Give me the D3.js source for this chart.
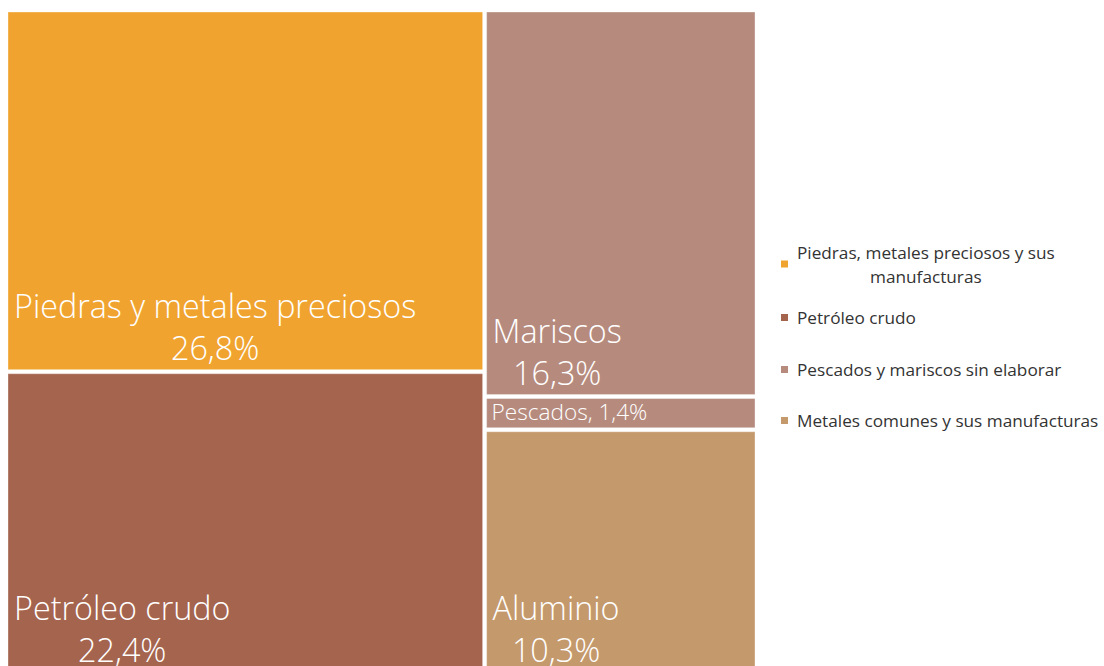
<!DOCTYPE html>
<html lang="es">
<head>
    <meta charset="UTF-8">
    <script src="https://d3js.org/d3.v7.min.js"></script>
    <title>Treemap exportaciones</title>
    <style>
        body { margin: 0; background: #fff; }
        .cell-label { fill: #fff; font-family: "Open Sans", sans-serif; font-weight: 300; }
        .legend text { fill: #333; font-family: "Open Sans", sans-serif; font-size: 17.2px; }
    </style>
</head>
<body>
    <div id="chart"></div>
    <script>
// Data
const names = ["Piedras y metales preciosos", "Petróleo crudo", "Mariscos", "Pescados", "Aluminio"];
const values = [26.8, 22.4, 16.3, 1.4, 10.3];
const columns = [0, 0, 1, 1, 1];          // column of the treemap each cell sits in
const categoryOf = [0, 1, 2, 2, 3];       // legend category of each cell
const legendLabels = [
    ["Piedras, metales preciosos y sus", "manufacturas"],
    ["Petróleo crudo"],
    ["Pescados y mariscos sin elaborar"],
    ["Metales comunes y sus manufacturas"]
];
const legendColors = ["#f0a42f", "#a5644e", "#b68b7e", "#c4996c"];

const width = 1104, height = 666;
const area = { x: 8, y: 12, w: 747, h: 660 };

const fmt = v => d3.format(".1f")(v).replace(".", ",") + "%";

const svg = d3.select("#chart").append("svg")
    .attr("width", width)
    .attr("height", height);

// Build hierarchy: root -> columns -> cells
const colData = d3.groups(names.map((n, i) => ({ name: n, value: values[i], col: columns[i], cat: categoryOf[i] })), d => d.col)
    .map(([col, items]) => ({ name: "col" + col, children: items }));

const root = d3.hierarchy({ name: "root", children: colData })
    .sum(d => d.value || 0);

d3.treemap()
    .tile(d3.treemapSliceDice)
    .size([area.w, area.h])
    .paddingInner(4)
    .round(false)(root);

const g = svg.append("g").attr("transform", `translate(${area.x},${area.y})`);

const leaves = g.selectAll("g.cell")
    .data(root.leaves())
    .join("g")
    .attr("class", "cell");

leaves.append("rect")
    .attr("x", d => d.x0)
    .attr("y", d => d.y0)
    .attr("width", d => d.x1 - d.x0)
    .attr("height", d => d.y1 - d.y0)
    .attr("fill", d => legendColors[d.data.cat])
    .attr("stroke", "rgba(255,255,255,0.35)")
    .attr("stroke-width", 1);

// Labels: two centered lines anchored to the bottom-left of each cell
leaves.each(function(d) {
    const cell = d3.select(this);
    const h = d.y1 - d.y0;
    if (h < 60) {
        cell.append("text")
            .attr("class", "cell-label")
            .attr("x", d.x0 + 5)
            .attr("y", d.y1 - 8)
            .style("font-size", "22.6px")
            .text(d.data.name + ", " + fmt(d.data.value));
        return;
    }
    const lines = [d.data.name, fmt(d.data.value)];
    const t = cell.append("text")
        .attr("class", "cell-label")
        .style("font-size", "32.3px")
        .attr("text-anchor", "middle");
    const spans = lines.map((l, i) => t.append("tspan").attr("y", d.y1 - 10 - (lines.length - 1 - i) * 42).text(l));
    const maxW = d3.max(spans, s => s.node().getComputedTextLength());
    spans.forEach(s => s.attr("x", d.x0 + 6 + maxW / 2));
});

// Legend
const legendBaselines = [259, 324, 376, 427];
const legend = svg.append("g").attr("class", "legend");
legendLabels.forEach((lines, i) => {
    const item = legend.append("g");
    const y = legendBaselines[i];
    const t = item.append("text").attr("text-anchor", "middle");
    const spans = lines.map((l, j) => t.append("tspan").attr("y", y + j * 24).text(l));
    const maxW = d3.max(spans, s => s.node().getComputedTextLength());
    spans.forEach(s => s.attr("x", 797 + maxW / 2));
    const mid = lines.length > 1 ? y + 5 : y - 6.5;
    item.append("rect")
        .attr("x", 781)
        .attr("y", mid - 3.5)
        .attr("width", 7)
        .attr("height", 7)
        .attr("fill", legendColors[i]);
});
    </script>
</body>
</html>
